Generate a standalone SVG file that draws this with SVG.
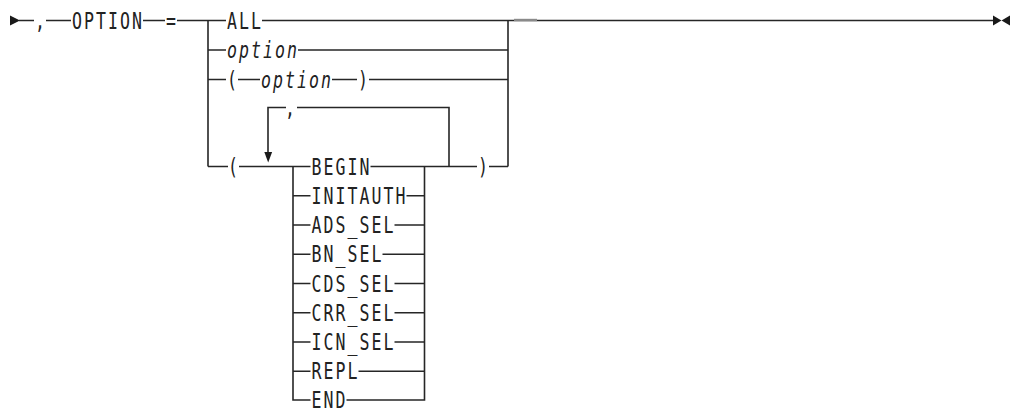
<svg xmlns="http://www.w3.org/2000/svg" width="1020" height="410" viewBox="0 0 1020 410">
<style>
.t{font-family:"DejaVu Sans Mono","Liberation Mono",monospace;font-size:23px;letter-spacing:2.82px;fill:#222}
.i{font-style:italic}
.c path,.c line{stroke:#262626;stroke-width:1.6;fill:none}
.ar{fill:#1a1a1a}
</style>
<rect width="1020" height="410" fill="#fff"/>
<g id="connectors" class="c">
<polygon class="ar" points="10,15.5 10,25.5 20,20.5"/>
<path d="M19 20.5H34M46 20.5H71M143 20.5H165M177 20.5H226M262 20.5H993"/>
<line x1="514" y1="20" x2="537" y2="20" style="stroke:#8a8a8a;stroke-width:2.4"/>
<polygon class="ar" points="993,15.5 993,25.5 1001.5,20.5"/>
<polygon class="ar" points="1010,15.5 1010,25.5 1001.5,20.5"/>
<path d="M208 20.5V166.5M508 20.5V166.5"/>
<path d="M208 50H226M298 50H508"/>
<path d="M208 79.5H226M238 79.5H260M332 79.5H357M369 79.5H508"/>
<path d="M208 166.5H228M239 166.5H310.5M370.5 166.5H477M489 166.5H508"/>
<path d="M449 166.5V107.5H297M286 107.5H268V152"/>
<polygon class="ar" points="264.3,152 272.1,152 268.2,162.5"/>
<path d="M293 166.5V400H310.5M424.5 166.5V400H346.5"/>
<path d="M293 195.75H310.5M406.5 195.75H424.5"/>
<path d="M293 225H310.5M394.5 225H424.5"/>
<path d="M293 254.25H310.5M382.5 254.25H424.5"/>
<path d="M293 283.5H310.5M394.5 283.5H424.5"/>
<path d="M293 312.75H310.5M394.5 312.75H424.5"/>
<path d="M293 342H310.5M394.5 342H424.5"/>
<path d="M293 371.25H310.5M358.5 371.25H424.5"/>
</g>
<g id="comma1"><text class="t" transform="translate(35,28.7) scale(0.72,1)">,</text></g>
<g id="kw-option"><text class="t" transform="translate(72,28.7) scale(0.72,1)">OPTION</text></g>
<g id="equals"><text class="t" transform="translate(166,28.7) scale(0.72,1)">=</text></g>
<g id="all"><text class="t" transform="translate(227,28.7) scale(0.72,1)">ALL</text></g>
<g id="option-var"><text class="t i" transform="translate(227,58.2) scale(0.72,1)">option</text></g>
<g id="paren-option">
<text class="t" transform="translate(227,87.7) scale(0.72,1)">(</text>
<text class="t i" transform="translate(261,87.7) scale(0.72,1)">option</text>
<text class="t" transform="translate(358,87.7) scale(0.72,1)">)</text>
</g>
<g id="list-open"><text class="t" transform="translate(228,174.7) scale(0.72,1)">(</text></g>
<g id="list-sep"><text class="t" transform="translate(285,115.7) scale(0.72,1)">,</text></g>
<g id="list-close"><text class="t" transform="translate(478,174.7) scale(0.72,1)">)</text></g>
<g id="begin"><text class="t" transform="translate(311.5,174.7) scale(0.72,1)">BEGIN</text></g>
<g id="initauth"><text class="t" transform="translate(311.5,203.95) scale(0.72,1)">INITAUTH</text></g>
<g id="ads_sel"><text class="t" transform="translate(311.5,233.2) scale(0.72,1)">ADS_SEL</text></g>
<g id="bn_sel"><text class="t" transform="translate(311.5,262.45) scale(0.72,1)">BN_SEL</text></g>
<g id="cds_sel"><text class="t" transform="translate(311.5,291.7) scale(0.72,1)">CDS_SEL</text></g>
<g id="crr_sel"><text class="t" transform="translate(311.5,320.95) scale(0.72,1)">CRR_SEL</text></g>
<g id="icn_sel"><text class="t" transform="translate(311.5,350.2) scale(0.72,1)">ICN_SEL</text></g>
<g id="repl"><text class="t" transform="translate(311.5,379.45) scale(0.72,1)">REPL</text></g>
<g id="end"><text class="t" transform="translate(311.5,408) scale(0.72,1)">END</text></g>
</svg>
